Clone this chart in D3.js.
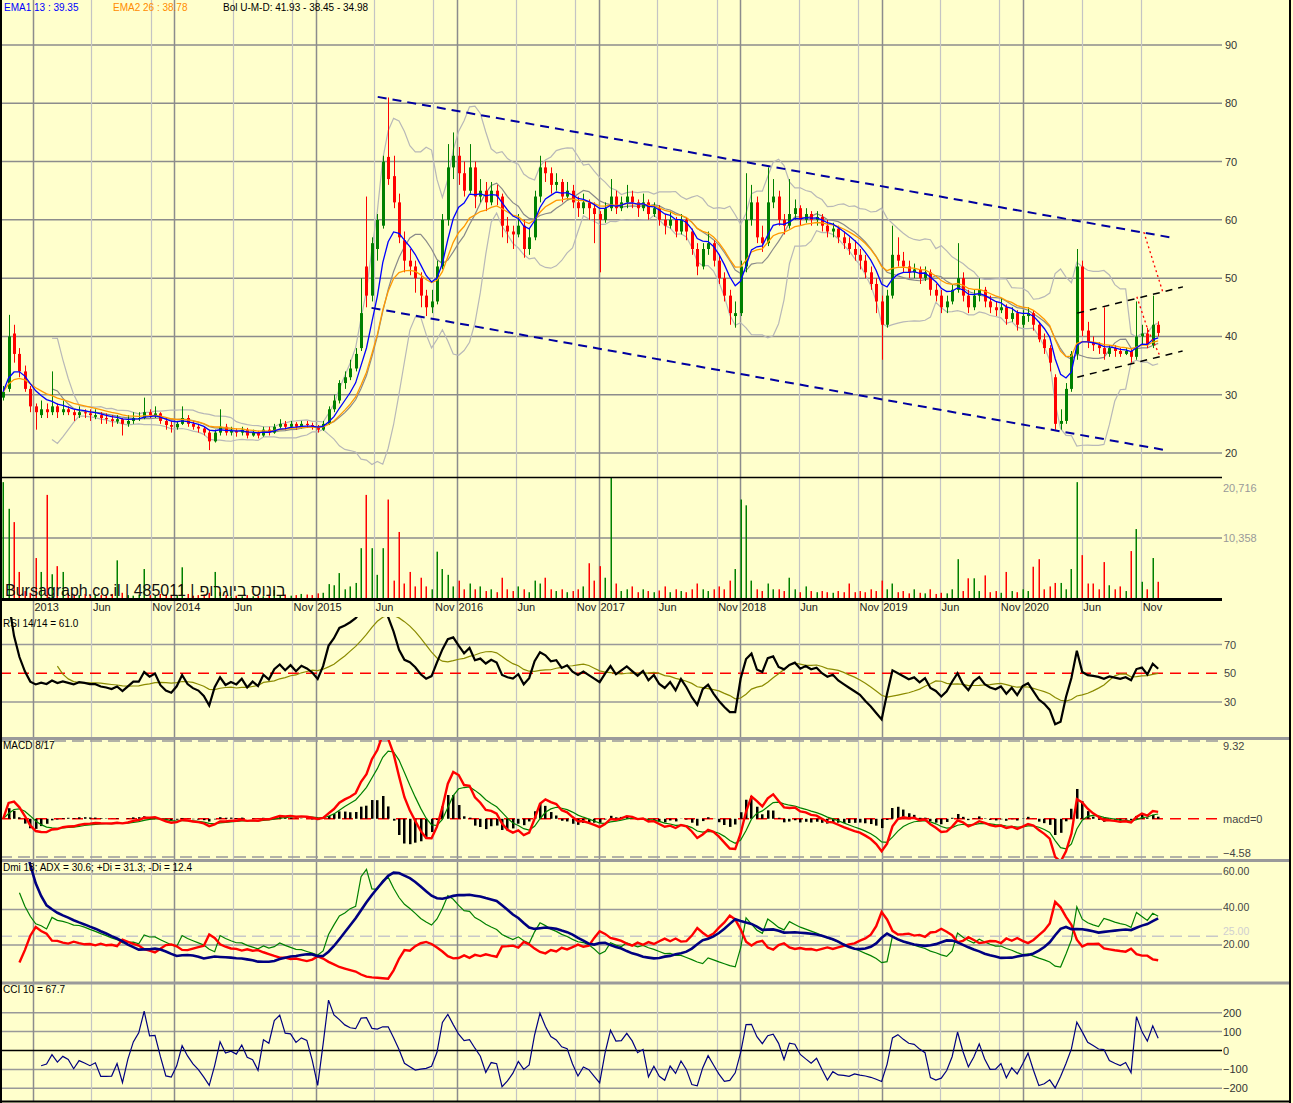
<!DOCTYPE html>
<html>
<head>
<meta charset="utf-8">
<script src="https://cdn.jsdelivr.net/npm/d3@7/dist/d3.min.js"></script>
<style>
html,body{margin:0;padding:0;background:#FFFFCC;}
svg{display:block;font-family:Arial,"Liberation Sans",sans-serif;}
</style>
</head>
<body>
<svg id="chart" width="1293" height="1103"></svg>
<script>
// ---------------- DATA (bi-weekly bars) ----------------
const firstBarDate = "2012-10-16";
const barStepDays = 14;

const opens = [
29.5,31,40.5,37,34,31,28,26.5,27.5,27,
28,27,27.5,27,26.5,27,26.8,26.2,26.5,26,
25.8,25.4,25.8,25,25.5,26,26,27,26.3,26.8,
25.5,24.8,24.4,25,26,25,24.5,24.2,23.5,22,
23.5,24.5,23.5,23.8,23.5,24,23,23.5,23,24,
23.5,24.5,25,24.5,25,24.5,25,24.8,24.5,24,
25,27.5,29,32,33,34.5,38,52,47,55,
59,70.8,67.5,63,56.5,53,52,50,47,45,
46,52,60,69,71,68,65,69,64,65,
63,65,64,59,58,57.5,59,55,57,64,
69,68,66,66.5,64,65,63,62,63,62,
61,60,62,64,62,63,64,63,62,63,
61,62,60,59,60,58,60,58,55,52,
55,56,53,50,47,43.5,44,52,60,63,
57,56,63,64,60,59,61,62,60,61,
60,60.5,59,58,58.5,57,56,55,54,53,
51,49,46,42,47,54,53,52,51,51.5,
50,51,48,47,45,46,48,50,47,45,
47,48,46,45,44.5,45,43,44,42,43.5,
44,42,39.5,38,33,25,25.5,31,37,52,
41,39,38.5,38,37,38,37.5,37,37.5,36.5,
40,40.5,38.5,42];
const highs = [
31.5,43.7,42,38,35,31.5,28.5,29,28.5,34,
28.5,29,28,27.5,28,27.5,27.5,27.5,27,26.8,
26.5,26.5,26,26.5,27,27,29.5,27.5,28,27,
26,25.5,25.5,28,26.5,25.5,25,24.5,24,24,
27.5,25,24.5,24.2,24.5,24.3,24,23.8,24.5,24.5,
25,25.8,25.5,25.5,25.3,25.5,25.5,25.2,24.8,25.5,
28,30,32.5,34,36,38,50,64,57,61,
71,81,71,64.5,58,55,53,51,48,48,
53,61,73,75,72.5,70,73,70,67,66.5,
66.5,66,64.5,60.5,59,61,60,58.5,65,71,
70,69,68,67,66.5,66,64,64.5,63.5,63,
61.5,63,67,65,64,66,65,63.5,64.5,63.5,
63,62.5,61,61.5,60.5,61,60.5,58.5,56,56,
58,56.5,54,51,48,46,53,68,66,64,
59,69,67,65,61,67,63.5,62.5,62,61.5,
61.5,61,60,59.5,59,58,57,56.5,55,54,
52,50,47,48,59,57,54.5,53,52.5,52,
52,51.5,49,48,47,49,56,51,48,48,
50,48.5,47,46,46.5,45.5,45,44.5,44.5,45,
44.5,42.5,40.5,38.5,33.5,27.5,32,37.5,55,53,
42.5,40,39,45,38.5,38.5,38,38,38,46,
42,41.5,47,42.6];
const lows = [
29,30.5,35.5,33,30.5,27,24,26,26,26.5,
26,26.5,26.5,25.5,26,26,25.5,25.8,25,25,
24.5,25,23,24.5,25,25.5,25.8,26,26,25,
24,23.5,24,24.8,24.5,24,23.5,23,20.5,21.8,
23,23,23,22.8,23,22.5,22.8,22.5,22.8,23,
23.3,24.2,24,24.2,24,24.2,24.3,24,23.5,23.8,
24.8,27,28.5,31,32.5,34,37.5,45,46,53,
58.5,66,62,56,51,50.5,47.5,45,43.5,44,
45.5,51.5,59,67,66,64,64.5,62,63,61.5,
62.5,62.5,57,56,55,57,53.5,54,56.5,63,
66.5,64.5,65,63,63.5,62,60.5,61,60,56,
51,59.5,61.5,61,61.5,62,62,60.5,61.5,60,
60.5,59,57.5,58.5,57,57.5,56.5,54,50.5,51.5,
54,52,49,46,42,41.5,43.5,51,59,56,
54.5,55.5,62,59,57.5,58.5,60,59,59.5,59,
59,58,57,57,56,55,54,53,51.5,50,
48,44,36,41.5,46.5,52,51,50,50,49,
49.5,47,46,44,44,45.5,47.5,46,44,44.5,
46,45,44,43.5,44,42,42.5,41,41.5,42.5,
41,39,37,34,24,24,25,30.5,36,40,
38,37.5,37,36,36.5,36.5,36.5,36.8,35.5,36,
38.5,38,38,40];
const closes = [
30.5,40,37,34,31,28,27,27.5,27,28,
27,27.5,27,26.5,27,26.8,26.5,26.5,26,25.8,
25.5,25.8,25,25.5,26,26,27,26.5,26.8,25.5,
24.8,24.5,25,26,25,24.5,24.2,23.5,22,23.5,
24.5,23.5,23.8,23.5,24,23,23.5,23,24,23.5,
24.5,25,24.5,25,24.5,25,24.8,24.5,24,25,
27.5,29,32,33,34.5,37,44,47,56,60,
70,67,63,57,53,52,50,47,45,46,
52,60,69,71,68,65,69,64,65,63,
65,64,59,58,57.5,59,55,57,64,69,
68,66,66.5,64,65,63,62,63,62,61,
60,62,64,62,63,64,63,62,63,61,
62,60,59,60,58,60,58,55,52,55,
56,53,50,47,44,44,52,60,63,57,
56,63,64,60,59,61,62,60,61,60,
60.5,59,58,58.5,57,56,55,54,53,51,
49,46,42,47,54,53,52,51,51.5,50,
51,48,47,45,46,48,50,47,45,47,
48,46,45,44.5,45,43,44,42,43.5,44,
42,39.5,38,35.5,25,25.5,31,37,52,41,
39,38.5,38,37,38,37.5,37,37.5,36.5,40,
40.5,38.5,42,40.6];
const volumes = [
20000,15400,13100,4500,1200,900,6900,4500,17800,4100,
5500,4500,800,600,500,700,400,600,500,400,
700,6500,900,500,400,600,5000,500,400,700,
600,400,500,5300,700,400,500,600,900,4500,
1000,500,300,400,300,500,300,400,300,600,
1400,500,600,400,500,700,600,500,800,900,
2400,2200,4300,1500,2000,2600,8600,17800,8600,4000,
8600,17000,3000,11400,2500,4500,2000,3500,2000,1500,
8000,5000,4000,2000,3000,1500,2500,1500,2000,1200,
1500,1000,3500,1500,1200,2000,1500,1000,3000,2500,
3500,1500,1200,1500,1000,1200,1500,2000,6000,3000,
5500,3500,20716,2500,1200,1500,2000,1000,1500,1200,
1000,1300,2000,1000,1500,1200,1000,1500,2500,1500,
1200,1500,2000,1500,3000,5000,17000,16000,3000,1500,
1200,2500,1500,1500,1200,3500,1500,1000,2000,1200,
1000,1200,1000,900,1200,1000,2500,1000,1200,1000,
1500,1200,3000,1500,2500,1000,1200,800,1500,900,
800,1500,700,900,800,1500,6700,1200,3400,3400,
1200,3900,1000,1200,900,4500,1200,1000,1500,1200,
5400,6700,1500,2000,2600,2600,1500,5000,20000,7400,
2500,2500,1500,6200,2200,1500,2000,1200,8100,11900,
2800,1500,6900,2800];

const xTickDates = ["2013-01-01","2013-06-01","2013-11-01","2014-01-01","2014-06-01","2014-11-01",
  "2015-01-01","2015-06-01","2015-11-01","2016-01-01","2016-06-01","2016-11-01",
  "2017-01-01","2017-06-01","2017-11-01","2018-01-01","2018-06-01","2018-11-01",
  "2019-01-01","2019-06-01","2019-11-01","2020-01-01","2020-06-01","2020-11-01"];
const xTickLabels = ["2013","Jun","Nov","2014","Jun","Nov","2015","Jun","Nov","2016","Jun","Nov",
  "2017","Jun","Nov","2018","Jun","Nov","2019","Jun","Nov","2020","Jun","Nov"];

const priceTicks = [20,30,40,50,60,70,80,90];
const volumeTicks = [10358,20716];
const rsiTicks = [30,50,70];
const macdTicks = [-4.58,0,9.32];
const dmiTicks = [20,25,40,60];
const cciTicks = [-200,-100,0,100,200];

// hand-drawn trend lines: [date, price] end points
const channelUpper = [["2015-06-10",81.1],["2021-01-15",57.0]];
const channelLower = [["2015-05-25",44.9],["2021-01-02",20.5]];
const shortUpper = [["2020-05-20",44.0],["2021-02-17",48.5]];
const shortLower = [["2020-05-20",33.0],["2021-02-16",37.5]];
const redDotA = [["2020-11-08",57.9],["2020-12-27",47.6]];
const redDotB = [["2020-10-21",46.8],["2020-11-19",41.0],["2020-12-20",36.6]];

const legendTexts = {
  ema1:"EMA1 13 : 39.35", ema2:"EMA2 26 : 38.78", bol:"Bol U-M-D: 41.93 - 38.45 - 34.98",
  rsi:"RSI 14/14 = 61.0", macd:"MACD 8/17", dmi:"Dmi 18; ADX = 30.6; +Di = 31.3; -Di = 12.4",
  cci:"CCI 10 = 67.7", brandLatin:"Bursagraph.co.il | 485011 |", brandHebrew:"בונוס ביוגרופ"
};

// indicator periods expressed in (bi-weekly) bars
const EMA1_N=7, EMA2_N=13, BOL_N=10, RSI_N=10, RSI_MA_N=10, MACD_F=4, MACD_S=9, MACD_SIG=5, DMI_N=12, CCI_N=8;

// ---------------- LAYOUT ----------------
const W=1293, H=1103, RIGHT=1222, EDGE=1290;
const P={price:[0,477], vol:[478,598], rsi:[617,737], macd:[740,859], dmi:[862,982], cci:[984,1100]};
const FONT="Arial, 'Liberation Sans', sans-serif";

const svg=d3.select("#chart");
svg.append("rect").attr("width",W).attr("height",H).attr("fill","#FFFFCC");
const defs=svg.append("defs");
Object.entries(P).forEach(([k,[a,b]])=>{
  defs.append("clipPath").attr("id","clip-"+k).append("rect").attr("x",0).attr("y",a).attr("width",RIGHT).attr("height",b-a);
});

const parse=d3.utcParse("%Y-%m-%d");
const t0=parse(firstBarDate);
const dates=closes.map((_,i)=>d3.utcDay.offset(t0,i*barStepDays));
const N=closes.length;

const x=d3.scaleUtc().domain([parse("2013-01-01"),parse("2020-01-01")]).range([33,1023]);
const yP=d3.scaleLinear().domain([20,90]).range([453,45]);
const yV=d3.scaleLinear().domain([0,20716]).range([598,478]);
const yR=d3.scaleLinear().domain([30,70]).range([702,644.5]);
const yM=d3.scaleLinear().domain([-4.58,9.32]).range([857,741]);
const yD=d3.scaleLinear().domain([20,60]).range([945,874]);
const yC=d3.scaleLinear().domain([-200,200]).range([1088.3,1012.7]);

// ---------------- INDICATORS ----------------
function ema(arr,n){const k=2/(n+1);const out=[];arr.forEach((v,i)=>out.push(i===0?v:v*k+out[i-1]*(1-k)));return out;}
function sma(arr,n){return arr.map((v,i)=>{if(i<n-1)return null;const s=arr.slice(i-n+1,i+1);if(s.some(a=>a==null))return null;return d3.mean(s);});}
const ema1=ema(closes,EMA1_N), ema2=ema(closes,EMA2_N);
const bolM=[],bolU=[],bolD=[];
closes.forEach((c,i)=>{
  if(i<BOL_N-1){bolM.push(null);bolU.push(null);bolD.push(null);return;}
  const s=closes.slice(i-BOL_N+1,i+1), m=d3.mean(s), sd=Math.sqrt(d3.mean(s.map(v=>(v-m)*(v-m))));
  bolM.push(m);bolU.push(m+2*sd);bolD.push(m-2*sd);
});
const rsi=[null];{let ag=0,al=0;
for(let i=1;i<N;i++){const ch=closes[i]-closes[i-1],g=Math.max(ch,0),l=Math.max(-ch,0);
  const n=Math.min(i,RSI_N); ag=(ag*(n-1)+g)/n; al=(al*(n-1)+l)/n;
  rsi.push(al===0?100:100-100/(1+ag/al));}}
const rsiMa=sma(rsi,RSI_MA_N);
const ef=ema(closes,MACD_F), es=ema(closes,MACD_S);
const macd=ef.map((v,i)=>v-es[i]); const sig=ema(macd,MACD_SIG); const hist=macd.map((v,i)=>v-sig[i]);
const pdi=[null],mdi=[null],adx=[null];{let sTR=0,sP=0,sM=0,a=null;
for(let i=1;i<N;i++){
  const tr=Math.max(highs[i]-lows[i],Math.abs(highs[i]-closes[i-1]),Math.abs(lows[i]-closes[i-1]));
  const up=highs[i]-highs[i-1], dn=lows[i-1]-lows[i];
  const pdm=(up>dn&&up>0)?up:0, mdm=(dn>up&&dn>0)?dn:0;
  const n=Math.min(i,DMI_N);
  sTR=(sTR*(n-1)+tr)/n; sP=(sP*(n-1)+pdm)/n; sM=(sM*(n-1)+mdm)/n;
  const p=100*sP/sTR, m=100*sM/sTR, dx=(p+m)===0?0:100*Math.abs(p-m)/(p+m);
  a=(a==null)?dx:(a*(n-1)+dx)/n;
  pdi.push(p);mdi.push(m);adx.push(a);
}}
const DMI_SKIP=3;
const pdiD=pdi.map((v,i)=>i<DMI_SKIP?null:v), mdiD=mdi.map((v,i)=>i<DMI_SKIP?null:v), adxD=adx.map((v,i)=>i<DMI_SKIP?null:v);
const tp=closes.map((c,i)=>(highs[i]+lows[i]+c)/3);
const cci=tp.map((v,i)=>{if(i<CCI_N-1)return null;const s=tp.slice(i-CCI_N+1,i+1),m=d3.mean(s),md=d3.mean(s.map(a=>Math.abs(a-m)));return md===0?0:(v-m)/(0.015*md);});

// ---------------- GRID ----------------
const gGrid=svg.append("g");
function hline(y,stroke,w,dash,x2){gGrid.append("line").attr("x1",0).attr("x2",x2||RIGHT).attr("y1",y).attr("y2",y).attr("stroke",stroke).attr("stroke-width",w).attr("stroke-dasharray",dash||null);}
priceTicks.forEach(t=>hline(yP(t),"#8c8c8c",1.5));
hline(yV(10358),"#8c8c8c",1.5);
[30,70].forEach(t=>hline(yR(t),"#999",1.5));
[20,40,60].forEach(t=>hline(yD(t),"#999",1.5));
hline(yD(25),"#c8c8c8",1.5,"12,6");
[-200,-100,100,200].forEach(t=>hline(yC(t),"#999",1.5));

const tickDates=xTickDates.map(parse);
gGrid.selectAll("line.v").data(tickDates).join("line").attr("class","v")
  .attr("x1",d=>Math.round(x(d))+0.5).attr("x2",d=>Math.round(x(d))+0.5).attr("y1",0).attr("y2",1101)
  .attr("stroke",(d,i)=>/^\d{4}$/.test(xTickLabels[i])?"#8c8c8c":"#c4c4c4")
  .attr("stroke-width",(d,i)=>/^\d{4}$/.test(xTickLabels[i])?1.5:1.2);

// ---------------- PRICE PANEL ----------------
const gP=svg.append("g").attr("clip-path","url(#clip-price)");
const lineGen=(arr,y)=>d3.line().defined((d,i)=>arr[i]!=null).x((d,i)=>x(dates[i])).y((d,i)=>y(arr[i]));
gP.append("path").datum(dates).attr("d",lineGen(bolU,yP)).attr("fill","none").attr("stroke","#b8b8b8").attr("stroke-width",1.2);
gP.append("path").datum(dates).attr("d",lineGen(bolD,yP)).attr("fill","none").attr("stroke","#b8b8b8").attr("stroke-width",1.2);
gP.append("path").datum(dates).attr("d",lineGen(bolM,yP)).attr("fill","none").attr("stroke","#8a8a8a").attr("stroke-width",1.2);

const idx=d3.range(N);
const colOf=i=>closes[i]>=opens[i]?"#008000":"#FF0000";
gP.selectAll("line.wick").data(idx).join("line").attr("class","wick")
  .attr("x1",i=>Math.round(x(dates[i]))+0.5).attr("x2",i=>Math.round(x(dates[i]))+0.5)
  .attr("y1",i=>yP(highs[i])).attr("y2",i=>yP(lows[i])).attr("stroke",colOf).attr("stroke-width",1);
gP.selectAll("rect.body").data(idx).join("rect").attr("class","body")
  .attr("x",i=>Math.round(x(dates[i]))-1).attr("width",3)
  .attr("y",i=>yP(Math.max(opens[i],closes[i])))
  .attr("height",i=>Math.max(1,yP(Math.min(opens[i],closes[i]))-yP(Math.max(opens[i],closes[i]))))
  .attr("fill",colOf);

gP.append("path").datum(dates).attr("d",lineGen(ema2,yP)).attr("fill","none").attr("stroke","#FF9900").attr("stroke-width",1.3);
gP.append("path").datum(dates).attr("d",lineGen(ema1,yP)).attr("fill","none").attr("stroke","#0000FF").attr("stroke-width",1.3);

const trendLine=d3.line().x(d=>x(parse(d[0]))).y(d=>yP(d[1]));
[channelUpper,channelLower].forEach(pts=>gP.append("path").datum(pts).attr("d",trendLine).attr("fill","none").attr("stroke","#0000A0").attr("stroke-width",2).attr("stroke-dasharray","9,6"));
[shortUpper,shortLower].forEach(pts=>gP.append("path").datum(pts).attr("d",trendLine).attr("fill","none").attr("stroke","#000").attr("stroke-width",1.5).attr("stroke-dasharray","7,6"));
[redDotA,redDotB].forEach(pts=>gP.append("path").datum(pts).attr("d",trendLine).attr("fill","none").attr("stroke","#FF0000").attr("stroke-width",1.3).attr("stroke-dasharray","2,3"));

// price axis
const axP=svg.append("g").attr("transform",`translate(${RIGHT},0)`)
  .call(d3.axisRight(yP).tickValues(priceTicks).tickSize(0).tickPadding(3).tickFormat(d3.format("d")));
axP.select(".domain").remove();
axP.selectAll("text").attr("font-family",FONT).attr("font-size",11).attr("fill","#333");

// legend
const legend=(txt,xp,yp,col)=>svg.append("text").attr("x",xp).attr("y",yp).attr("font-family",FONT).attr("font-size",10).attr("fill",col).text(txt);
legend(legendTexts.ema1,4,11,"#0000FF");
legend(legendTexts.ema2,113,11,"#FF8C00");
legend(legendTexts.bol,223,11,"#000");

// ---------------- VOLUME ----------------
const gV=svg.append("g").attr("clip-path","url(#clip-vol)");
gV.selectAll("rect").data(idx).join("rect")
  .attr("x",i=>Math.round(x(dates[i]))-0.5).attr("width",1.5)
  .attr("y",i=>yV(volumes[i])).attr("height",i=>yV(0)-yV(volumes[i])).attr("fill",colOf);
const axV=svg.append("g").attr("transform",`translate(${RIGHT},0)`)
  .call(d3.axisRight(yV).tickValues(volumeTicks).tickSize(0).tickPadding(1).tickFormat(d3.format(",")));
axV.select(".domain").remove();
axV.selectAll("text").attr("font-family",FONT).attr("font-size",11).attr("fill","#999")
  .attr("dy",d=>d===20716?"1.25em":"0.32em");
const brand1=svg.append("text").attr("x",5).attr("y",596).attr("font-family",FONT).attr("font-size",16).attr("fill","#111").text(legendTexts.brandLatin);
const bLen=brand1.node().getComputedTextLength();
svg.append("text").attr("x",5+bLen+5).attr("y",596).attr("font-family",FONT).attr("font-size",16).attr("fill","#111")
  .text(legendTexts.brandHebrew);

// x labels
const axX=svg.append("g").attr("transform","translate(0,600)")
  .call(d3.axisBottom(x).tickValues(tickDates).tickSize(0).tickPadding(3).tickFormat((d,i)=>xTickLabels[i]));
axX.select(".domain").remove();
axX.selectAll("text").attr("font-family",FONT).attr("font-size",11).attr("fill","#222").attr("text-anchor","start").attr("dx","1");

// ---------------- RSI ----------------
const gR=svg.append("g").attr("clip-path","url(#clip-rsi)");
gR.append("line").attr("x1",0).attr("x2",RIGHT).attr("y1",yR(50)).attr("y2",yR(50)).attr("stroke","#FF0000").attr("stroke-width",1.5).attr("stroke-dasharray","11,7");
gR.append("path").datum(dates).attr("d",lineGen(rsiMa,yR)).attr("fill","none").attr("stroke","#8B8B00").attr("stroke-width",1.2);
gR.append("path").datum(dates).attr("d",lineGen(rsi,yR)).attr("fill","none").attr("stroke","#000").attr("stroke-width",2.2);
const axR=svg.append("g").attr("transform",`translate(${RIGHT},0)`)
  .call(d3.axisRight(yR).tickValues(rsiTicks).tickSize(0).tickPadding(2).tickFormat(d3.format("d")));
axR.select(".domain").remove();
axR.selectAll("text").attr("font-family",FONT).attr("font-size",11).attr("fill","#444");
legend(legendTexts.rsi,3,627,"#000");

// ---------------- MACD ----------------
svg.append("line").attr("x1",0).attr("x2",EDGE).attr("y1",738.5).attr("y2",738.5).attr("stroke","#9a9a9a").attr("stroke-width",3);
svg.append("line").attr("x1",0).attr("x2",RIGHT).attr("y1",yM(9.32)).attr("y2",yM(9.32)).attr("stroke","#999").attr("stroke-width",1.5).attr("stroke-dasharray","12,6");
svg.append("line").attr("x1",0).attr("x2",RIGHT).attr("y1",yM(-4.58)).attr("y2",yM(-4.58)).attr("stroke","#999").attr("stroke-width",1.5).attr("stroke-dasharray","12,6");
const gM=svg.append("g").attr("clip-path","url(#clip-macd)");
gM.append("line").attr("x1",0).attr("x2",RIGHT).attr("y1",yM(0)).attr("y2",yM(0)).attr("stroke","#FF0000").attr("stroke-width",1.5).attr("stroke-dasharray","11,7");
gM.selectAll("rect").data(idx).join("rect")
  .attr("x",i=>Math.round(x(dates[i]))-1).attr("width",2.5)
  .attr("y",i=>Math.min(yM(0),yM(hist[i]))).attr("height",i=>Math.abs(yM(hist[i])-yM(0))).attr("fill","#000");
gM.append("path").datum(dates).attr("d",lineGen(sig,yM)).attr("fill","none").attr("stroke","#008000").attr("stroke-width",1.2);
gM.append("path").datum(dates).attr("d",lineGen(macd,yM)).attr("fill","none").attr("stroke","#FF0000").attr("stroke-width",2.4);
const axM=svg.append("g").attr("transform",`translate(${RIGHT},0)`)
  .call(d3.axisRight(yM).tickValues(macdTicks).tickSize(0).tickPadding(1).tickFormat(d=>d===0?"macd=0":d3.format(".2f")(d)));
axM.select(".domain").remove();
axM.selectAll("text").attr("font-family",FONT).attr("font-size",11).attr("fill","#444")
  .attr("dy",d=>d===9.32?"0.75em":(d===-4.58?"-0.05em":"0.32em"));
legend(legendTexts.macd,3,749,"#000");

// ---------------- DMI ----------------
svg.append("line").attr("x1",0).attr("x2",EDGE).attr("y1",860.5).attr("y2",860.5).attr("stroke","#9a9a9a").attr("stroke-width",3);
const gD=svg.append("g").attr("clip-path","url(#clip-dmi)");
gD.append("path").datum(dates).attr("d",lineGen(pdiD,yD)).attr("fill","none").attr("stroke","#008000").attr("stroke-width",1.2);
gD.append("path").datum(dates).attr("d",lineGen(mdiD,yD)).attr("fill","none").attr("stroke","#FF0000").attr("stroke-width",2.4);
gD.append("path").datum(dates).attr("d",lineGen(adxD,yD)).attr("fill","none").attr("stroke","#000080").attr("stroke-width",2.6);
const axD=svg.append("g").attr("transform",`translate(${RIGHT},0)`)
  .call(d3.axisRight(yD).tickValues(dmiTicks).tickSize(0).tickPadding(1).tickFormat(d3.format(".2f")));
axD.select(".domain").remove();
axD.selectAll("text").attr("font-family",FONT).attr("font-size",10.5).attr("fill",d=>d===25?"#d0d0d0":"#444")
  .attr("dy",d=>d===25?"-0.15em":(d===20?"0.2em":"0.05em"));
legend(legendTexts.dmi,3,871,"#000");

// ---------------- CCI ----------------
svg.append("line").attr("x1",0).attr("x2",EDGE).attr("y1",983).attr("y2",983).attr("stroke","#9a9a9a").attr("stroke-width",3);
const gCc=svg.append("g").attr("clip-path","url(#clip-cci)");
gCc.append("line").attr("x1",0).attr("x2",RIGHT).attr("y1",yC(0)).attr("y2",yC(0)).attr("stroke","#000").attr("stroke-width",1.3);
gCc.append("path").datum(dates).attr("d",lineGen(cci,yC)).attr("fill","none").attr("stroke","#000080").attr("stroke-width",1.2);
const axC=svg.append("g").attr("transform",`translate(${RIGHT},0)`)
  .call(d3.axisRight(yC).tickValues(cciTicks).tickSize(0).tickPadding(1).tickFormat(d3.format("d")));
axC.select(".domain").remove();
axC.selectAll("text").attr("font-family",FONT).attr("font-size",11).attr("fill","#333");
legend(legendTexts.cci,3,993,"#000");

// ---------------- BORDERS ----------------
svg.append("line").attr("x1",0).attr("x2",RIGHT).attr("y1",477.5).attr("y2",477.5).attr("stroke","#000").attr("stroke-width",1.5);
svg.append("line").attr("x1",0).attr("x2",RIGHT).attr("y1",599.5).attr("y2",599.5).attr("stroke","#000").attr("stroke-width",3);
svg.append("line").attr("x1",0).attr("x2",EDGE).attr("y1",1101.5).attr("y2",1101.5).attr("stroke","#000").attr("stroke-width",2);
svg.append("line").attr("x1",1).attr("x2",1).attr("y1",0).attr("y2",H).attr("stroke","#000").attr("stroke-width",2);
svg.append("line").attr("x1",EDGE).attr("x2",EDGE).attr("y1",0).attr("y2",H).attr("stroke","#000").attr("stroke-width",2);
</script>
</body>
</html>
